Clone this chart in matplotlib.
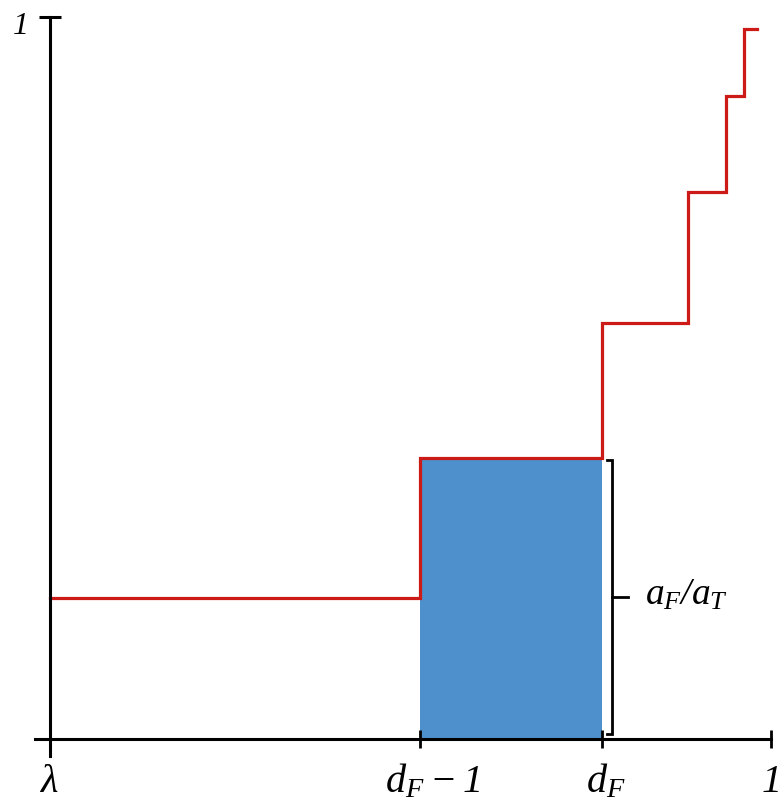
import matplotlib
matplotlib.use("Agg")
import matplotlib.pyplot as plt
from matplotlib.transforms import offset_copy

plt.rcParams['mathtext.fontset'] = 'custom'
plt.rcParams['mathtext.rm'] = 'Liberation Serif:italic'
plt.rcParams['mathtext.it'] = 'Liberation Serif:italic'
plt.rcParams['mathtext.bf'] = 'Liberation Serif:italic:bold'
plt.rcParams['mathtext.fallback'] = 'stix'
plt.rcParams['font.family'] = ['Liberation Serif', 'DejaVu Serif']

# ---- data ----
tick_positions = [0.0, 0.513, 0.7656, 1.0]
tick_labels = [r'$\lambda$', r'$d_F - 1$', r'$d_F$', r'$1$']
step_x = [0.0, 0.513, 0.7656, 0.885, 0.937, 0.962, 0.980]
step_y = [0.195, 0.389, 0.576, 0.758, 0.890, 0.983, 0.983]
bar_left = 0.513
bar_right = 0.7656
bar_height = 0.389   # a_F / a_T
bracket_label = r'$a_F/a_T$'
y_top_label = r'$1$'

W, H = 782, 803
fig = plt.figure(figsize=(W / 100, H / 100), dpi=100)
ax = fig.add_axes([0, 0, 1, 1])
x0px, x1px = 50, 771
y0px, y1px = 740, 18
sx = (x1px - x0px)
sy = (y0px - y1px)
ax.set_xlim(-x0px / sx, (W - x0px) / sx)
ax.set_ylim((y0px - H) / sy, y0px / sy)
ax.patch.set_alpha(0)

# blue rectangle
ax.bar(bar_left, bar_height, width=bar_right - bar_left, align='edge',
       color='#4E90CB', edgecolor='none', zorder=1)

# red step line
ax.plot(step_x, step_y, drawstyle='steps-post', color='#CC1B17', lw=2.3,
        solid_joinstyle='miter', zorder=3)

# spines as axes
for s in ['top', 'right']:
    ax.spines[s].set_visible(False)
ax.spines['left'].set_position(('data', 0))
ax.spines['bottom'].set_position(('data', 0))
ax.spines['left'].set_bounds(-0.0235, 1.0)
ax.spines['bottom'].set_bounds(-0.0208, 1.0)
for s in ['left', 'bottom']:
    ax.spines[s].set_linewidth(2.2)
    ax.spines[s].set_color('black')
    ax.spines[s].set_zorder(4)

ax.set_xticks(tick_positions)
ax.set_xticklabels([])
ax.tick_params(axis='x', direction='inout', length=13, width=2.0, color='black')
ax.set_yticks([1.0])
ax.set_yticklabels([])
ax.tick_params(axis='y', direction='inout', length=15.5, width=2.2, color='black')

# x labels
label_dx = [0, 13, 4, -1]
for xp, lab, dx in zip(tick_positions, tick_labels, label_dx):
    tr = offset_copy(ax.transData, fig=fig, x=dx, y=0, units='dots')
    ax.text(xp, -0.072, lab, transform=tr, ha='center', va='baseline',
            fontsize=29)

# top-left "1"
ax.text(-0.043, 0.978, y_top_label, ha='center', va='baseline', fontsize=23)

# bracket
bx = 0.7795
ax.plot([bx - 0.007, bx, bx, bx - 0.007],
        [bar_height - 0.003, bar_height - 0.003, 0.007, 0.007],
        color='black', lw=2.0, solid_joinstyle='miter', zorder=4)
ax.plot([bx, bx + 0.022], [bar_height / 2 + 0.002, bar_height / 2 + 0.002],
        color='black', lw=2.0, zorder=4)
ax.text(0.825, 0.187, bracket_label, ha='left', va='baseline', fontsize=27)

fig.savefig('out.png', dpi=100)
